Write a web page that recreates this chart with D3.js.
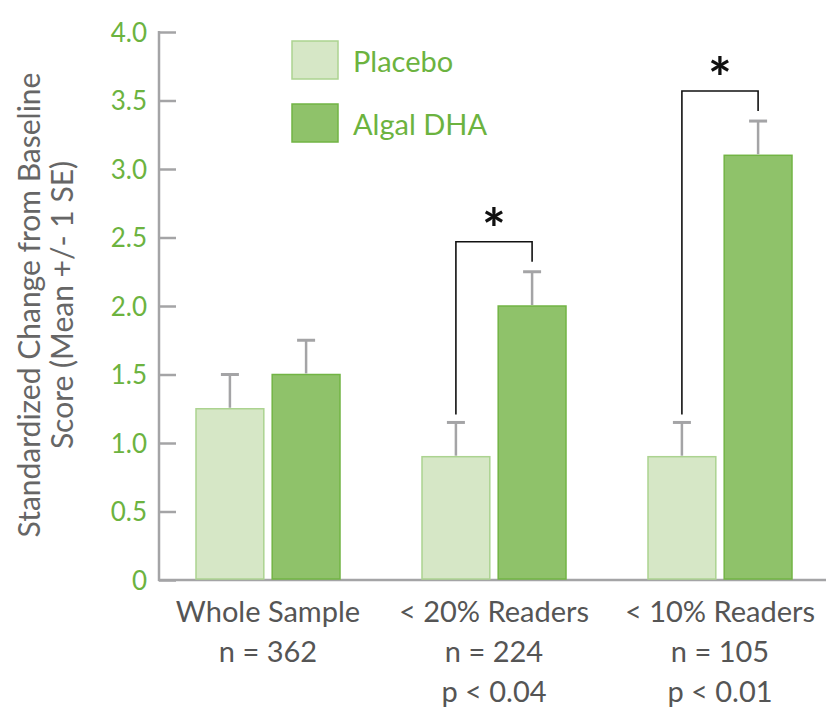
<!DOCTYPE html>
<html><head><meta charset="utf-8">
<script src="https://cdn.jsdelivr.net/npm/d3@7"></script>
<style>body{margin:0;background:#fff}svg{display:block}text{font-family:Lato,"Open Sans",sans-serif}</style>
</head><body><svg id="c" width="826" height="709"></svg>
<script>
const categories = ["Whole Sample", "< 20% Readers", "< 10% Readers"];
const catLine2 = ["n = 362", "n = 224", "n = 105"];
const catLine3 = ["", "p < 0.04", "p < 0.01"];
const series = ["Placebo", "Algal DHA"];
const placebo = [1.25, 0.9, 0.9];
const algal = [1.5, 2.0, 3.1];
const placeboSE = [0.25, 0.25, 0.25];
const algalSE = [0.25, 0.25, 0.25];
const yTicks = [0, 0.5, 1.0, 1.5, 2.0, 2.5, 3.0, 3.5, 4.0];
const sigGroups = [1, 2];

const svg = d3.select("#c");
const y = d3.scaleLinear().domain([0, 4]).range([580, 32]);
const x = d3.scaleBand().domain(categories).range([155, 833]).padding(0);
const xs = d3.scaleBand().domain(series).range([-72, 72]).paddingInner(0.11);
const fills = ["#d6e7c6", "#8fc26a"];
const strokes = ["#acd390", "#72b444"];
const green = "#6cb33f";
const gray = "#a4a4a6";

// y axis
const yAxis = d3.axisRight(y).tickValues(yTicks).tickSize(17)
  .tickFormat(d => d === 0 ? "0" : d3.format(".1f")(d));
const gy = svg.append("g").attr("transform", "translate(159,0)").call(yAxis);
gy.select(".domain").remove();
gy.selectAll(".tick line").attr("stroke", gray).attr("stroke-width", 2.5);
gy.selectAll(".tick text").attr("x", -12).attr("text-anchor", "end")
  .attr("fill", green).attr("font-size", 26).attr("dy", "0.35em");
svg.append("line").attr("x1", 159).attr("x2", 159).attr("y1", y(4) - 1).attr("y2", y(0) + 1)
  .attr("stroke", gray).attr("stroke-width", 2.5);
svg.append("line").attr("x1", 158).attr("x2", 826).attr("y1", y(0)).attr("y2", y(0))
  .attr("stroke", gray).attr("stroke-width", 2.5);

// bars
const data = [];
categories.forEach((c, i) => {
  data.push({c, s: series[0], v: placebo[i], se: placeboSE[i], k: 0});
  data.push({c, s: series[1], v: algal[i], se: algalSE[i], k: 1});
});
const bx = d => x(d.c) + x.bandwidth() / 2 + xs(d.s);
svg.selectAll("rect.bar").data(data).join("rect").attr("class", "bar")
  .attr("x", d => bx(d)).attr("width", xs.bandwidth())
  .attr("y", d => y(d.v)).attr("height", d => y(0) - y(d.v) - 1)
  .attr("fill", d => fills[d.k]).attr("stroke", d => strokes[d.k]).attr("stroke-width", 1.5);
// error bars
const ex = d => bx(d) + xs.bandwidth() / 2;
svg.selectAll("line.err").data(data).join("line").attr("class", "err")
  .attr("x1", ex).attr("x2", ex).attr("y1", d => y(d.v) - 1).attr("y2", d => y(d.v + d.se))
  .attr("stroke", gray).attr("stroke-width", 2.5);
svg.selectAll("line.cap").data(data).join("line").attr("class", "cap")
  .attr("x1", d => ex(d) - 9).attr("x2", d => ex(d) + 9)
  .attr("y1", d => y(d.v + d.se)).attr("y2", d => y(d.v + d.se))
  .attr("stroke", gray).attr("stroke-width", 3);

// significance brackets
sigGroups.forEach(i => {
  const dP = data[i * 2], dA = data[i * 2 + 1];
  const xl = ex(dP), xr = ex(dA);
  const yTop = y(dA.v + dA.se) - 30;
  const yl = y(dP.v + dP.se) - 8;
  const yr = y(dA.v + dA.se) - 10;
  svg.append("path").attr("d", `M${xl},${yl}V${yTop}H${xr}V${yr}`)
    .attr("fill", "none").attr("stroke", "#111").attr("stroke-width", 1.6);
  svg.append("text").attr("x", (xl + xr) / 2).attr("y", yTop + 7).attr("text-anchor", "middle")
    .attr("font-size", 56).attr("font-weight", "bold").attr("fill", "#111").text("*");
});

// x labels
categories.forEach((c, i) => {
  const cx = x(c) + x.bandwidth() / 2;
  const t = svg.append("text").attr("text-anchor", "middle").attr("fill", "#555")
    .attr("font-size", 29);
  [c, catLine2[i], catLine3[i]].forEach((s, j) => {
    t.append("tspan").attr("x", cx).attr("y", 622 + j * 40).text(s);
  });
});

// y title
const yt = svg.append("text").attr("transform", "translate(0,305) rotate(-90)")
  .attr("text-anchor", "middle").attr("fill", "#666").attr("font-size", 30);
yt.append("tspan").attr("x", 0).attr("y", 40).text("Standardized Change from Baseline");
yt.append("tspan").attr("x", 0).attr("y", 73).text("Score (Mean +/- 1 SE)");

// legend
series.forEach((s, i) => {
  svg.append("rect").attr("x", 292).attr("y", 41 + i * 63).attr("width", 46).attr("height", 38)
    .attr("fill", fills[i]).attr("stroke", strokes[i]).attr("stroke-width", 1.5);
  svg.append("text").attr("x", 353).attr("y", 72 + i * 63).attr("fill", green)
    .attr("font-size", 29).text(s);
});
</script></body></html>
